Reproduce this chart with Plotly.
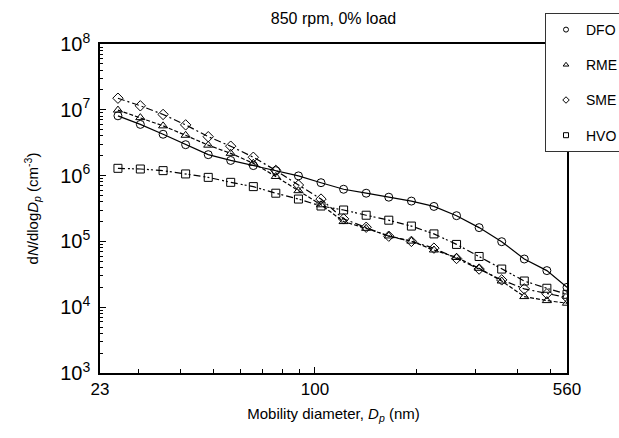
import plotly.graph_objects as go

diameter_nm = [26.0, 30.3, 35.4, 41.3, 48.2, 56.2, 65.6, 76.5, 89.3, 104.2, 121.6,
               141.9, 165.6, 193.3, 225.5, 263.2, 307.1, 358.4, 418.2, 488.0, 560.0]

dfo = [8.1e6, 6.0e6, 4.25e6, 2.95e6, 2.08e6, 1.7e6, 1.42e6, 1.19e6, 9.9e5, 7.8e5, 6.2e5,
       5.4e5, 4.7e5, 4.1e5, 3.4e5, 2.46e5, 1.62e5, 9.9e4, 5.4e4, 3.6e4, 2.0e4]
rme = [9.9e6, 7.6e6, 5.7e6, 4.1e6, 2.9e6, 2.18e6, 1.54e6, 9.7e5, 5.9e5, 3.6e5, 2.0e5,
       1.58e5, 1.21e5, 1.01e5, 7.4e4, 5.7e4, 3.9e4, 2.5e4, 1.45e4, 1.26e4, 1.15e4]
sme = [1.5e7, 1.15e7, 8.5e6, 5.9e6, 3.9e6, 2.8e6, 1.9e6, 1.2e6, 7.2e5, 4.4e5, 2.2e5,
       1.64e5, 1.2e5, 1.0e5, 7.9e4, 5.5e4, 3.8e4, 2.6e4, 1.9e4, 1.6e4, 1.4e4]
hvo = [1.29e6, 1.26e6, 1.19e6, 1.06e6, 9.4e5, 7.9e5, 6.8e5, 5.4e5, 4.4e5, 3.45e5, 3.0e5,
       2.5e5, 2.1e5, 1.71e5, 1.3e5, 9.0e4, 5.9e4, 3.8e4, 2.5e4, 1.94e4, 1.57e4]

series_names = ["DFO", "RME", "SME", "HVO"]
series_values = [dfo, rme, sme, hvo]
symbols = ["circle-open", "triangle-up-open", "diamond-open", "square-open"]
dashes = ["solid", "4px,2px", "7px,3px,2px,3px", "7px,3px,2px,2px,2px,3px"]
marker_sizes = [8, 8, 8, 8]

x_tick_vals = [23, 100, 560]
x_tick_text = ["23", "100", "560"]
x_minor_vals = [30, 40, 50, 60, 70, 80, 90, 200, 300, 400, 500]
y_tick_vals = [1e3, 1e4, 1e5, 1e6, 1e7, 1e8]
y_tick_text = ["10<sup>3</sup>", "10<sup>4</sup>", "10<sup>5</sup>", "10<sup>6</sup>",
               "10<sup>7</sup>", "10<sup>8</sup>"]
y_minor_vals = [m * 10 ** e for e in range(3, 8) for m in range(2, 10)]

FONT = "Liberation Sans, Arial, sans-serif"

fig = go.Figure()
for name, vals, sym, dash, ms in zip(series_names, series_values, symbols, dashes, marker_sizes):
    fig.add_trace(go.Scatter(
        x=diameter_nm, y=vals, mode="lines+markers", name=name, showlegend=False,
        line=dict(color="black", width=1.2, dash=dash),
        marker=dict(symbol=sym, size=ms, color="black", line=dict(width=1))))
for name, sym in zip(series_names, symbols):
    fig.add_trace(go.Scatter(
        x=[None], y=[None], mode="markers", name=name, legendgroup=name,
        marker=dict(symbol=sym, size=5, color="black", line=dict(width=1))))

fig.update_layout(
    width=619, height=438,
    margin=dict(l=100, r=52, t=44, b=65, autoexpand=False),
    paper_bgcolor="white", plot_bgcolor="white",
    font=dict(family=FONT, color="black", size=14),
    title=dict(text="850 rpm, 0% load", x=0.5, xref="paper", xanchor="center",
               y=1 - 18 / 438, yref="container", yanchor="middle",
               font=dict(size=16, family=FONT, color="black")),
    legend=dict(x=(545 - 100) / 467, xanchor="left", y=(373 - 13) / 329, yanchor="top",
                bgcolor="white", bordercolor="#333", borderwidth=1,
                font=dict(size=14, family=FONT), traceorder="grouped",
                tracegroupgap=14, itemwidth=30,
                entrywidth=90, entrywidthmode="pixels"),
)
fig.update_xaxes(
    type="log", range=[1.3617, 2.7482],
    tickmode="array", tickvals=x_tick_vals, ticktext=x_tick_text,
    ticks="inside", ticklen=6, tickwidth=1, tickcolor="black",
    tickfont=dict(size=17, family=FONT),
    minor=dict(tickmode="array", tickvals=x_minor_vals, ticks="inside", ticklen=4,
               tickwidth=1, tickcolor="black", showgrid=False),
    showline=True, linecolor="black", linewidth=1.5, mirror=True,
    showgrid=False, zeroline=False,
    title=dict(text="Mobility diameter, <i>D</i><sub><i>p</i></sub> (nm)",
               font=dict(size=15, family=FONT), standoff=10),
)
fig.update_yaxes(
    type="log", range=[3, 8],
    tickmode="array", tickvals=y_tick_vals, ticktext=y_tick_text,
    ticks="inside", ticklen=6, tickwidth=1, tickcolor="black",
    tickfont=dict(size=20, family=FONT), ticklabelstandoff=4,
    minor=dict(tickmode="array", tickvals=y_minor_vals, ticks="inside", ticklen=3,
               tickwidth=1, tickcolor="black", showgrid=False),
    showline=True, linecolor="black", linewidth=1.5, mirror=True,
    showgrid=False, zeroline=False,
    title=dict(text="d<i>N</i>/dlog<i>D</i><sub><i>p</i></sub> (cm<sup>-3</sup>)",
               font=dict(size=15, family=FONT), standoff=18),
)

fig.write_html("out.html")
